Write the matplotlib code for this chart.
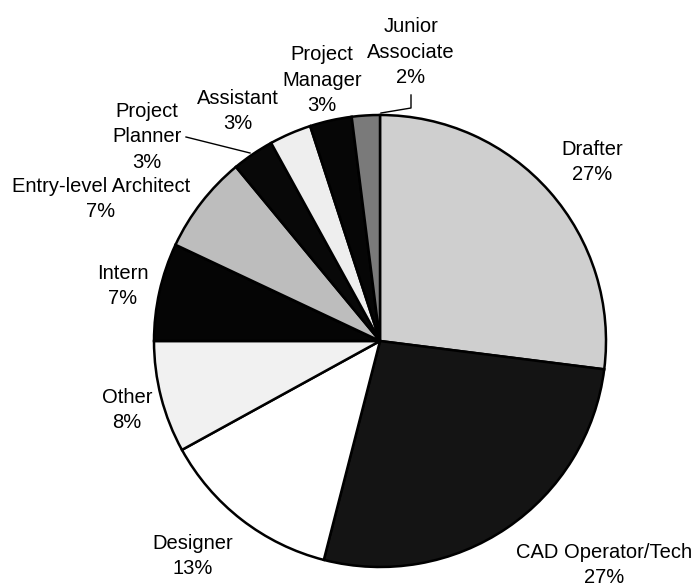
import matplotlib
matplotlib.use("Agg")
import matplotlib.pyplot as plt

# slice data, clockwise from 12 o'clock
roles = ["Drafter", "CAD Operator/Tech", "Designer", "Other", "Intern",
         "Entry-level Architect", "Project Planner", "Assistant",
         "Project Manager", "Junior Associate"]
shares = [27, 27, 13, 8, 7, 7, 3, 3, 3, 2]
fills = ["#cfcfcf", "#141414", "#ffffff", "#f1f1f1", "#050505",
         "#bdbdbd", "#080808", "#eeeeee", "#060606", "#7a7a7a"]

# label text lines (multi-line labels as in the original)
label_text = ["Drafter", "CAD Operator/Tech", "Designer", "Other", "Intern",
              "Entry-level Architect", "Project\nPlanner", "Assistant",
              "Project\nManager", "Junior\nAssociate"]
# label centres in pixel coords (x, y from top)
label_pos = [(592, 162), (604, 565), (193, 556), (127, 410), (123, 286),
             (101, 199), (147, 137), (238, 111), (322, 80), (411, 52)]

W, H = 696, 586
fig = plt.figure(figsize=(W / 100, H / 100), dpi=100)
ax = fig.add_axes([0, 0, 1, 1])

cx, cy, r = 380, 341, 226
wedges, _ = ax.pie(shares, colors=fills, startangle=90, counterclock=False,
                   center=(cx, H - cy), radius=r, frame=True,
                   wedgeprops=dict(edgecolor="black", linewidth=1.8))
ax.set_xlim(0, W)
ax.set_ylim(0, H)
ax.axis("off")

for txt, s, (x, y) in zip(label_text, shares, label_pos):
    ax.text(x, H - y, f"{txt}\n{s}%", ha="center", va="center",
            fontsize=14.5, family="Liberation Sans", linespacing=1.45)

# leader lines for the small slices
ax.plot([411, 411, 381], [H - 95, H - 108, H - 113], color="black", lw=1)
ax.plot([186, 250], [H - 137, H - 153], color="black", lw=1)

fig.savefig("out.png", dpi=100)
